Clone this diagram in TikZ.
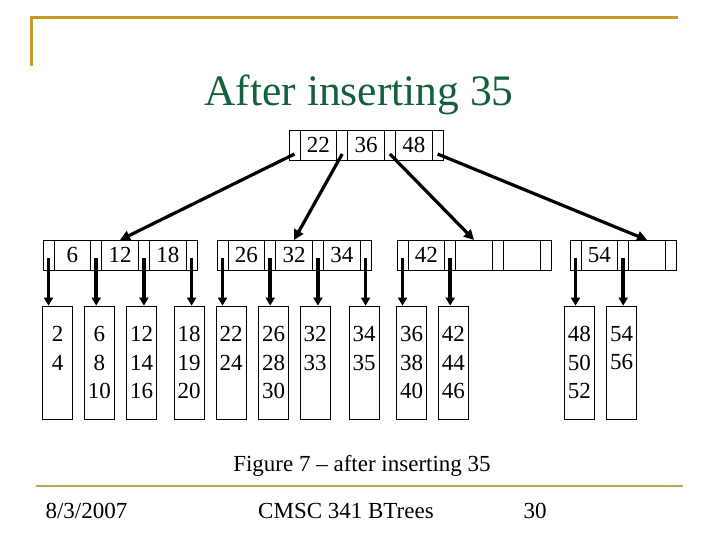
\documentclass[tikz,border=0pt]{standalone}
\usepackage{fontspec}
\setmainfont{Liberation Serif}
\usepackage{tikz}
\usetikzlibrary{arrows.meta,calc}
\definecolor{TitleGreen}{RGB}{20,95,60}
\definecolor{FrameGold}{RGB}{200,155,40}
\definecolor{RuleGold}{RGB}{190,165,75}

\tikzset{
  cell/.style={draw,line width=0.8pt,minimum height=30pt,inner sep=0pt,outer sep=0pt,
    font=\fontsize{23}{28}\selectfont},
  ptrcell/.style={cell,minimum width=11pt},
  keycell/.style={cell,minimum width=36.7pt},
  leaf/.style={draw,line width=0.8pt,minimum width=30pt,minimum height=113pt,inner sep=0pt,
    align=center,font=\fontsize{23}{28.3}\selectfont},
  link/.style={line width=3.2pt,-{Triangle[length=10pt,width=10pt]}},
  down/.style={line width=3.5pt,-{Triangle[length=8pt,width=9pt]}},
  footer/.style={anchor=base,font=\fontsize{23}{28}\selectfont}
}

\newcommand{\bnode}[5]{%
  \foreach \k [count=\i from 0] in {#5}{
    \node[ptrcell] (#1p\i) at ({#2+\i*47.7+5.5},#3) {};
    \node[keycell] (#1k\i) at ({#2+\i*47.7+29.35},#3) {\k};
  }
  \node[ptrcell] (#1p#4) at ({#2+#4*47.7+5.5},#3) {};
}

\begin{document}
\begin{tikzpicture}[x=1pt,y=-1pt]
  \useasboundingbox (0,0) rectangle (720,540);
  \draw[FrameGold,line width=3pt] (31,66) -- (31,18) -- (678,18);
  \draw[RuleGold,line width=2pt] (36,486) -- (683,486);
  \node[anchor=base,text=TitleGreen,font=\fontsize{43.5}{50}\selectfont] (title) at (359,106) {After inserting 35};

  \bnode{R}{289}{145}{3}{22,36,48}
  \bnode{A}{43}{255}{3}{6,12,18}
  \bnode{B}{217}{255}{3}{26,32,34}
  \bnode{C}{397}{255}{3}{42,{},{}}
  \bnode{D}{570}{255}{2}{54,{}}

  \foreach \x/\a/\b/\c [count=\i] in {57.7/2/4/, 99.3/6/8/10, 141.7/12/14/16, 189/18/19/20,
      231/22/24/, 273.7/26/28/30, 315/32/33/, 364/34/35/,
      411.7/36/38/40, 453.3/42/44/46, 579.3/48/50/52, 621.7/54/56/}
    \node[leaf] (L\i) at (\x,362.5) {\a\\\b\\\c\vphantom{0}};

  \foreach \p/\c in {Rp0/Ak1,Rp1/Bk1,Rp2/Ck1,Rp3/Dk1}
    \draw[link] ([yshift=-9pt]\p.center) -- (\c.north);
  \foreach \p/\l in {Ap0/L1,Ap1/L2,Ap2/L3,Ap3/L4,Bp0/L5,Bp1/L6,Bp2/L7,Bp3/L8,
      Cp0/L9,Cp1/L10,Dp0/L11,Dp1/L12}
    \draw[down] ([yshift=-3pt]\p.center) -- (\p |- \l.north);

  \node[footer] (caption) at (362,471) {Figure 7 -- after inserting 35};
  \node[footer,anchor=base west] (date) at (42,518) {8/3/2007};
  \node[footer] (course) at (346,518) {CMSC 341 BTrees};
  \node[footer] (page) at (535,518) {30};
\end{tikzpicture}
\end{document}
